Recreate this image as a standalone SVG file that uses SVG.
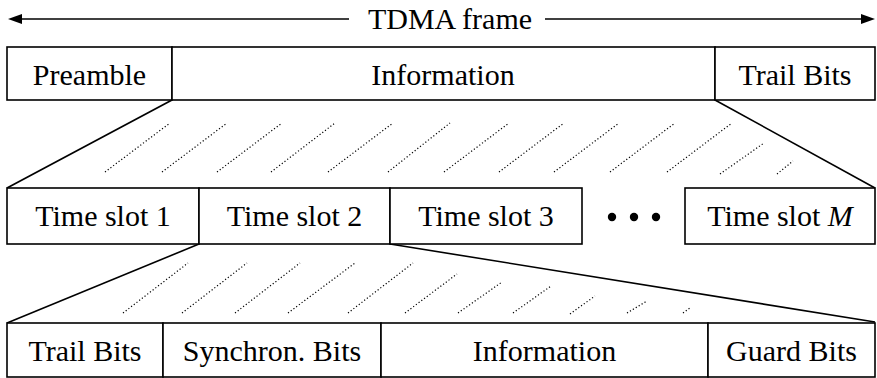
<svg xmlns="http://www.w3.org/2000/svg" width="877" height="378" viewBox="0 0 877 378">
<style>
.box{fill:#fff;stroke:#000;stroke-width:1.6}
.t{font-family:"Liberation Serif",Tinos,"Nimbus Roman","Times New Roman","DejaVu Serif",serif;font-size:30px;fill:#000;text-anchor:middle}
.edge{stroke:#000;stroke-width:1.6;fill:none}
.dot{stroke:#000;stroke-width:1.2;stroke-dasharray:1.2 2.2;fill:none}
</style>
<rect width="877" height="378" fill="#fff"/>
<g id="title">
<line class="edge" x1="20" y1="19" x2="349" y2="19"/>
<polygon points="8,19 22,14 22,24" fill="#000"/>
<line class="edge" x1="545" y1="19" x2="863" y2="19"/>
<polygon points="875,19 861,14 861,24" fill="#000"/>
<text class="t" x="450" y="29">TDMA frame</text>
</g>
<g id="connectors">
<line class="edge" x1="172" y1="100" x2="7" y2="188"/>
<line class="edge" x1="715" y1="100" x2="875" y2="188"/>
<line class="edge" x1="199" y1="244" x2="7" y2="323"/>
<line class="edge" x1="390" y1="244" x2="875" y2="322"/>
<g id="hatch-upper">
<line class="dot" x1="105" y1="172" x2="170" y2="123"/>
<line class="dot" x1="162" y1="172" x2="227" y2="123"/>
<line class="dot" x1="217" y1="172" x2="282" y2="123"/>
<line class="dot" x1="271" y1="172" x2="335" y2="123"/>
<line class="dot" x1="328" y1="172" x2="393" y2="123"/>
<line class="dot" x1="388" y1="172" x2="450" y2="123"/>
<line class="dot" x1="444" y1="172" x2="509" y2="123"/>
<line class="dot" x1="499" y1="172" x2="564" y2="123"/>
<line class="dot" x1="554" y1="172" x2="619" y2="123"/>
<line class="dot" x1="610" y1="172" x2="675" y2="123"/>
<line class="dot" x1="667" y1="172" x2="732" y2="123"/>
<line class="dot" x1="720" y1="174" x2="764" y2="143"/>
<line class="dot" x1="777" y1="174" x2="793" y2="161"/>
</g>
<g id="hatch-lower">
<line class="dot" x1="123" y1="313" x2="188" y2="263"/>
<line class="dot" x1="182" y1="313" x2="247" y2="263"/>
<line class="dot" x1="235" y1="313" x2="300" y2="263"/>
<line class="dot" x1="288" y1="313" x2="355" y2="263"/>
<line class="dot" x1="348" y1="313" x2="413" y2="263"/>
<line class="dot" x1="405" y1="313" x2="457" y2="274"/>
<line class="dot" x1="458" y1="313" x2="502" y2="282"/>
<line class="dot" x1="513" y1="313" x2="551" y2="286"/>
<line class="dot" x1="570" y1="314" x2="595" y2="296"/>
<line class="dot" x1="627" y1="313" x2="647" y2="301"/>
<line class="dot" x1="683" y1="313" x2="690" y2="308"/>
</g>
</g>
<g id="frame">
<g id="preamble"><rect class="box" x="7" y="47" width="165" height="53"/><text class="t" x="89.5" y="85">Preamble</text></g>
<g id="frame-info"><rect class="box" x="172" y="47" width="543" height="53"/><text class="t" x="443" y="85">Information</text></g>
<g id="frame-trail"><rect class="box" x="715" y="47" width="160" height="53"/><text class="t" x="795" y="85">Trail Bits</text></g>
</g>
<g id="slots">
<g id="slot1"><rect class="box" x="7" y="188" width="192" height="56"/><text class="t" x="103" y="226">Time slot 1</text></g>
<g id="slot2"><rect class="box" x="199" y="188" width="191" height="56"/><text class="t" x="294.5" y="226">Time slot 2</text></g>
<g id="slot3"><rect class="box" x="390" y="188" width="192" height="56"/><text class="t" x="486" y="226">Time slot 3</text></g>
<g id="ellipsis"><circle cx="612" cy="217" r="4.2"/><circle cx="634" cy="217" r="4.2"/><circle cx="656" cy="217" r="4.2"/></g>
<g id="slotM"><rect class="box" x="685" y="188" width="190" height="56"/><text class="t" x="780" y="226">Time slot <tspan font-style="italic">M</tspan></text></g>
</g>
<g id="slotdetail">
<g id="s-trail"><rect class="box" x="7" y="323" width="156" height="54"/><text class="t" x="85" y="361">Trail Bits</text></g>
<g id="s-sync"><rect class="box" x="163" y="323" width="218" height="54"/><text class="t" x="272" y="361">Synchron. Bits</text></g>
<g id="s-info"><rect class="box" x="381" y="323" width="327" height="54"/><text class="t" x="544.5" y="361">Information</text></g>
<g id="s-guard"><rect class="box" x="708" y="323" width="167" height="54"/><text class="t" x="791.5" y="361">Guard Bits</text></g>
</g>
</svg>
